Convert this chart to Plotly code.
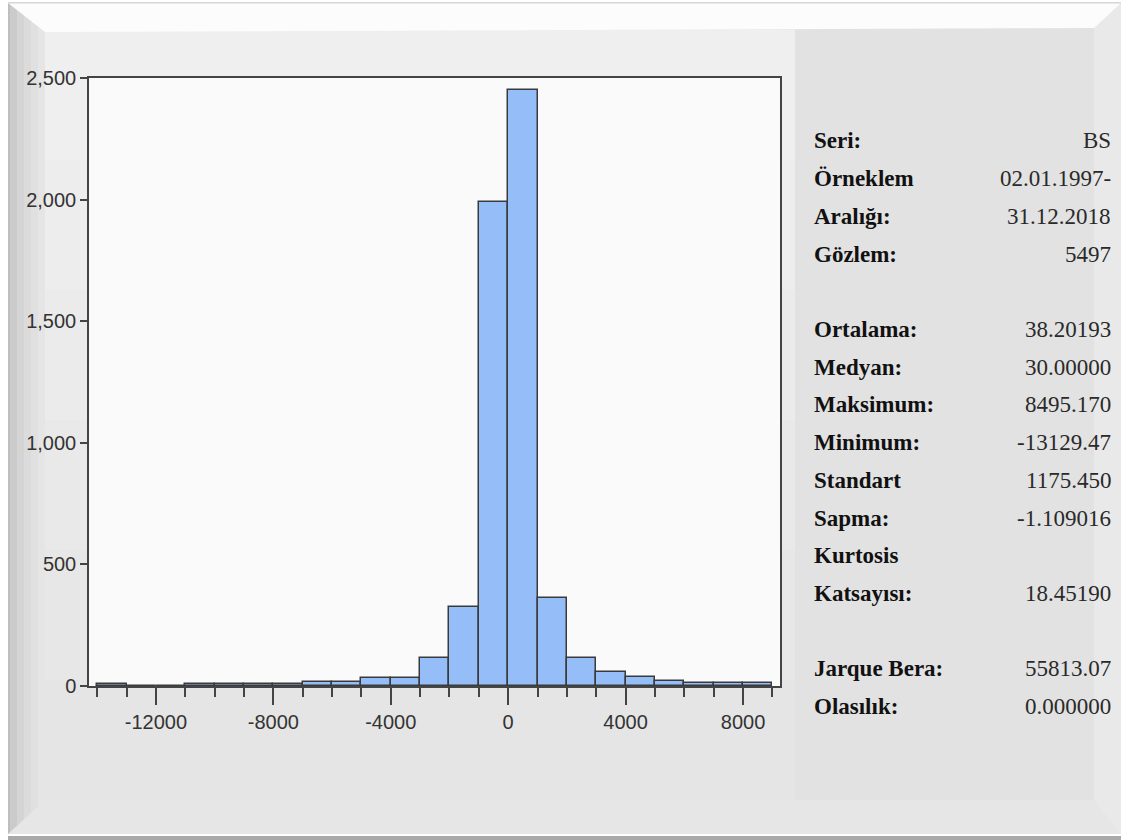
import plotly.graph_objects as go

# ---------------- data ----------------
bin_starts = [-14000, -13000, -12000, -11000, -10000, -9000, -8000, -7000, -6000,
              -5000, -4000, -3000, -2000, -1000, 0, 1000, 2000, 3000, 4000,
              5000, 6000, 7000, 8000]
counts = [9, 0, 0, 7, 7, 7, 7, 18, 18, 32, 32, 114, 323, 1990, 2450, 360,
          114, 58, 38, 22, 12, 11, 11]
bin_width = 1000

x_tick_vals = [-12000, -8000, -4000, 0, 4000, 8000]
x_tick_text = ["-12000", "-8000", "-4000", "0", "4000", "8000"]
y_tick_vals = [0, 500, 1000, 1500, 2000, 2500]

stat_labels = ["Seri:", "Örneklem", "Aralığı:", "Gözlem:", "",
               "Ortalama:", "Medyan:", "Maksimum:", "Minimum:", "Standart",
               "Sapma:", "Kurtosis", "Katsayısı:", "", "Jarque Bera:", "Olasılık:"]
stat_values = ["BS", "02.01.1997-", "31.12.2018", "5497", "",
               "38.20193", "30.00000", "8495.170", "-13129.47", "1175.450",
               "-1.109016", "", "18.45190", "", "55813.07", "0.000000"]

# ---------------- geometry helpers ----------------
W, H = 1127, 840
L, R, T, B = 89, 780, 78, 686


def px(X):
    return (X - L) / (R - L)


def py(Y):
    return (B - Y) / (B - T)


def rect(x0, y0, x1, y1, color):
    return dict(type="rect", xref="paper", yref="paper",
                x0=px(x0), x1=px(x1), y0=py(y1), y1=py(y0),
                fillcolor=color, line=dict(width=0), layer="below")


def poly(points, color):
    d = "M " + " L ".join(f"{px(a)},{py(b)}" for a, b in points) + " Z"
    return dict(type="path", xref="paper", yref="paper", path=d,
                fillcolor=color, line=dict(width=0), layer="below")


shapes = []
# outer frame body
shapes.append(rect(8, 3, 1121, 835, "#E8E8E8"))
# left interior bands (subtle vertical gradient)
band_cols = ["#EFEFEF", "#EDEDED", "#EBEBEB", "#E9E9E9", "#E7E7E7", "#E5E5E5"]
band_edges = [30, 160, 290, 420, 550, 680, 800]
for i, c in enumerate(band_cols):
    shapes.append(rect(45, band_edges[i], 795, band_edges[i + 1], c))
# right stats panel
shapes.append(rect(795, 26, 1094, 800, "#E2E2E2"))
# left bevel gradient strips
left_cols = ["#BEBEBE", "#CBCBCB", "#D4D4D4", "#DBDBDB", "#E0E0E0", "#E5E5E5"]
xs = [8, 10, 17, 24, 31, 38, 45]
for i, c in enumerate(left_cols):
    shapes.append(rect(xs[i], 3, xs[i + 1], 835, c))
# right bevel
shapes.append(rect(1094, 3, 1121, 835, "#E9E9E9"))
# top bevel
shapes.append(poly([(8, 3), (1121, 3), (1094, 28), (45, 32)], "#FCFCFC"))
# bottom bevel
shapes.append(poly([(8, 834), (1121, 834), (1094, 800), (45, 800)], "#E6E6E6"))
# thin outer lines
shapes.append(rect(8, 2, 1121, 3.5, "#D6D6D6"))
shapes.append(rect(8, 834, 1121, 836, "#FFFFFF"))
shapes.append(rect(8, 836, 1121, 840, "#A9A9A9"))
# plot area background
shapes.append(rect(L, T, R, B, "#FAFAFA"))

# ---------------- figure ----------------
fig = go.Figure()
fig.add_trace(go.Bar(
    x=[s + bin_width / 2 for s in bin_starts],
    y=counts,
    width=bin_width,
    marker=dict(color="#95BEF8", line=dict(color="#3A3A3A", width=1.5)),
    hoverinfo="x+y",
))

tick_font = dict(family="Liberation Sans, Arial, sans-serif", size=20, color="#333333")

fig.update_layout(
    width=W, height=H,
    margin=dict(l=L, r=W - R, t=T, b=H - B, pad=0),
    paper_bgcolor="#FFFFFF",
    plot_bgcolor="rgba(0,0,0,0)",
    showlegend=False,
    bargap=0,
    shapes=shapes,
    xaxis=dict(
        range=[-14280, 9260],
        tickvals=x_tick_vals, ticktext=x_tick_text,
        ticks="outside", ticklen=17, tickwidth=1.5, tickcolor="#444444",
        minor=dict(dtick=1000, tick0=0, ticks="outside", ticklen=9,
                   tickwidth=1.5, tickcolor="#444444"),
        showline=True, linecolor="#444444", linewidth=1.5, mirror=True,
        showgrid=False, zeroline=False,
        tickfont=tick_font,
    ),
    yaxis=dict(
        range=[0, 2500],
        tickvals=y_tick_vals, tickformat=",d",
        ticks="outside", ticklen=7, tickwidth=1.5, tickcolor="#444444",
        showline=True, linecolor="#444444", linewidth=1.5, mirror=True,
        showgrid=False, zeroline=False,
        tickfont=tick_font,
    ),
)

# ---------------- stats panel text ----------------
row0, row_step = 141, 37.7
label_font = dict(family="Liberation Serif, Times New Roman, serif", size=23, color="#111111")
value_font = dict(family="Liberation Serif, Times New Roman, serif", size=23, color="#2A2A2A")
for i, (lab, val) in enumerate(zip(stat_labels, stat_values)):
    yy = py(row0 + i * row_step)
    if lab:
        fig.add_annotation(xref="paper", yref="paper", x=px(812), y=yy,
                           text=f"<b>{lab}</b>", showarrow=False,
                           xanchor="left", yanchor="middle", font=label_font)
    if val:
        fig.add_annotation(xref="paper", yref="paper", x=px(1113), y=yy,
                           text=val, showarrow=False,
                           xanchor="right", yanchor="middle", font=value_font)

fig.write_html("out.html",
               config={"displayModeBar": False},
               post_script="document.body.style.margin='0';document.body.style.overflow='hidden';")
